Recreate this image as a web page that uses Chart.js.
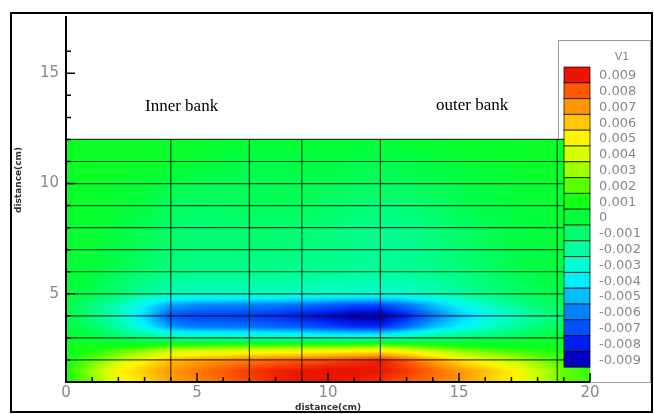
<!DOCTYPE html>
<html>
<head>
<meta charset="utf-8">
<script src="https://cdn.jsdelivr.net/npm/chart.js@4.4.0/dist/chart.umd.min.js"></script>
<style>
  html, body { margin: 0; padding: 0; background: #fff; }
  #wrap { width: 654px; height: 414px; }
</style>
</head>
<body>
<div id="wrap"><canvas id="chart" width="654" height="414"></canvas></div>
<script>
// measuring grid: stations across the channel (cm) and depth layers (cm)
const xPoints = [0, 1, 2, 3, 4, 5, 6, 7, 8, 9, 10, 11, 12, 13, 14, 15, 16, 17, 18, 19, 20];
const yLayers = [1, 1.5, 2, 2.5, 3, 3.5, 4, 4.5, 5, 6, 7, 8, 9, 10, 11, 12];

// V, one row per layer (bottom layer first)
const vRows = [
  [0.0008, 0.0025, 0.0045, 0.0055, 0.0068, 0.0072, 0.0078, 0.0082, 0.0088, 0.0090, 0.0090, 0.0088, 0.0085, 0.0080, 0.0075, 0.0070, 0.0060, 0.0050, 0.0036, 0.0020, 0.0014], // y=1
  [0.0010, 0.0030, 0.0050, 0.0060, 0.0070, 0.0075, 0.0080, 0.0085, 0.0088, 0.0090, 0.0092, 0.0092, 0.0090, 0.0085, 0.0078, 0.0070, 0.0062, 0.0052, 0.0038, 0.0022, 0.0015], // y=1.5
  [0.0008, 0.0020, 0.0035, 0.0050, 0.0062, 0.0068, 0.0071, 0.0075, 0.0078, 0.0080, 0.0082, 0.0085, 0.0088, 0.0080, 0.0068, 0.0055, 0.0045, 0.0035, 0.0025, 0.0015, 0.0010], // y=2
  [0.0008, 0.0010, 0.0015, 0.0020, 0.0030, 0.0032, 0.0033, 0.0034, 0.0035, 0.0036, 0.0038, 0.0040, 0.0042, 0.0035, 0.0027, 0.0020, 0.0015, 0.0012, 0.0010, 0.0009, 0.0008], // y=2.5
  [0.0005, 0, -0.0006, -0.0012, -0.0019, -0.0021, -0.0021, -0.0021, -0.0022, -0.0023, -0.0025, -0.0026, -0.0025, -0.0020, -0.0015, -0.0011, -0.0007, -0.0004, 0, 0.0003, 0.0004], // y=3
  [0, -0.0008, -0.0020, -0.0037, -0.0056, -0.0061, -0.0062, -0.0063, -0.0065, -0.0068, -0.0072, -0.0076, -0.0077, -0.0064, -0.0050, -0.0039, -0.0029, -0.0020, -0.0012, -0.0005, -0.0002], // y=3.5
  [-0.0002, -0.0012, -0.0026, -0.0046, -0.0070, -0.0074, -0.0074, -0.0075, -0.0077, -0.0082, -0.0087, -0.0093, -0.0094, -0.0080, -0.0063, -0.0049, -0.0038, -0.0028, -0.0018, -0.0010, -0.0005], // y=4
  [-0.0003, -0.0012, -0.0024, -0.0038, -0.0054, -0.0058, -0.0059, -0.0060, -0.0061, -0.0063, -0.0066, -0.0070, -0.0070, -0.0062, -0.0050, -0.0038, -0.0028, -0.0019, -0.0011, -0.0005, -0.0002], // y=4.5
  [0, -0.0004, -0.0011, -0.0019, -0.0025, -0.0026, -0.0026, -0.0026, -0.0026, -0.0027, -0.0028, -0.0029, -0.0029, -0.0028, -0.0025, -0.0020, -0.0015, -0.0010, -0.0005, -0.0002, 0], // y=5
  [0.0002, 0, -0.0005, -0.0010, -0.0014, -0.0016, -0.0016, -0.0016, -0.0016, -0.0017, -0.0018, -0.0018, -0.0019, -0.0018, -0.0016, -0.0013, -0.0009, -0.0005, -0.0002, 0, 0.0001], // y=6
  [0.0003, 0.0002, -0.0002, -0.0006, -0.0010, -0.0012, -0.0012, -0.0012, -0.0012, -0.0013, -0.0014, -0.0016, -0.0018, -0.0017, -0.0014, -0.0010, -0.0006, -0.0003, 0, 0.0002, 0.0002], // y=7
  [0.0003, 0.0003, 0, -0.0004, -0.0009, -0.0011, -0.0010, -0.0009, -0.0009, -0.0010, -0.0012, -0.0014, -0.0016, -0.0015, -0.0012, -0.0008, -0.0005, -0.0002, 0, 0.0002, 0.0002], // y=8
  [0.0004, 0.0004, 0.0002, -0.0001, -0.0006, -0.0008, -0.0007, -0.0006, -0.0005, -0.0006, -0.0008, -0.0010, -0.0012, -0.0011, -0.0008, -0.0005, -0.0002, 0, 0.0002, 0.0003, 0.0003], // y=9
  [0.0005, 0.0005, 0.0004, 0.0002, -0.0002, -0.0004, -0.0005, -0.0005, -0.0004, -0.0003, -0.0004, -0.0006, -0.0007, -0.0006, -0.0004, -0.0002, 0, 0.0002, 0.0003, 0.0004, 0.0004], // y=10
  [0.0006, 0.0006, 0.0006, 0.0005, 0.0004, 0.0002, 0, -0.0002, -0.0002, -0.0001, -0.0001, -0.0002, -0.0003, -0.0002, 0, 0.0002, 0.0003, 0.0004, 0.0005, 0.0005, 0.0005], // y=11
  [0.0006, 0.0006, 0.0006, 0.0006, 0.0005, 0.0005, 0.0004, 0.0003, 0.0003, 0.0003, 0.0003, 0.0003, 0.0003, 0.0004, 0.0004, 0.0005, 0.0005, 0.0006, 0.0006, 0.0006, 0.0006]  // y=12
];

// contour levels and their flood colours (lowest first)
const levels = [-0.009, -0.008, -0.007, -0.006, -0.005, -0.004, -0.003, -0.002, -0.001, 0,
                0.001, 0.002, 0.003, 0.004, 0.005, 0.006, 0.007, 0.008, 0.009];
const levelColors = [
  [0, 0, 190], [0, 30, 240], [0, 80, 255], [0, 130, 255], [0, 190, 255], [0, 240, 255],
  [0, 255, 210], [0, 255, 160], [0, 255, 110], [0, 255, 60], [20, 255, 20], [90, 255, 0],
  [160, 255, 0], [215, 255, 0], [255, 245, 0], [255, 200, 0], [255, 150, 0], [255, 90, 0],
  [235, 20, 0]
];

// mesh lines drawn over the flood
const sectionX = [4, 7, 9, 12, 18.75];
const meshY = [1, 2, 3, 4, 5, 6, 7, 8, 9, 10, 11, 12];

Chart.defaults.font.family = '"DejaVu Sans", sans-serif';

function clamp01(t) {
    return t < 0 ? 0 : (t > 1 ? 1 : t);
}

function sampleField(xv, yv) {
    let i = 0;
    while (i < xPoints.length - 2 && xv > xPoints[i + 1]) i++;
    let j = 0;
    while (j < yLayers.length - 2 && yv > yLayers[j + 1]) j++;
    const tx = clamp01((xv - xPoints[i]) / (xPoints[i + 1] - xPoints[i]));
    const ty = clamp01((yv - yLayers[j]) / (yLayers[j + 1] - yLayers[j]));
    const r0 = vRows[j], r1 = vRows[j + 1];
    const a = r0[i] + (r0[i + 1] - r0[i]) * tx;
    const b = r1[i] + (r1[i + 1] - r1[i]) * tx;
    return a + (b - a) * ty;
}

function colorFor(v) {
    const n = levels.length - 1;
    let t = (v - levels[0]) / (levels[n] - levels[0]) * n;
    t = Math.max(0, Math.min(n, t));
    const k = Math.min(n - 1, Math.floor(t));
    const f = t - k;
    const c0 = levelColors[k], c1 = levelColors[k + 1];
    return [0, 1, 2].map(m => Math.round(c0[m] + (c1[m] - c0[m]) * f));
}

/**
 * Flood contour + legend frame, drawn under the mesh lines
 */
const floodPlugin = {
    id: 'flood',
    beforeDatasetsDraw(chart) {
        const ctx = chart.ctx;
        const xs = chart.scales.x, ys = chart.scales.y;

        // legend box sits behind the flood
        ctx.save();
        ctx.fillStyle = '#fff';
        ctx.strokeStyle = '#9a9a9a';
        ctx.lineWidth = 1;
        ctx.fillRect(558.5, 40.5, 92, 342);
        ctx.strokeRect(558.5, 40.5, 92, 342);
        ctx.restore();

        const left = Math.round(xs.getPixelForValue(xPoints[0]));
        const right = Math.round(xs.getPixelForValue(xPoints[xPoints.length - 1]));
        const top = Math.round(ys.getPixelForValue(yLayers[yLayers.length - 1]));
        const bottom = Math.round(ys.getPixelForValue(yLayers[0]));
        const w = right - left, h = bottom - top;
        const img = ctx.createImageData(w, h);
        for (let j = 0; j < h; j++) {
            const yv = ys.getValueForPixel(top + j + 0.5);
            for (let i = 0; i < w; i++) {
                const xv = xs.getValueForPixel(left + i + 0.5);
                const c = colorFor(sampleField(xv, yv));
                const p = (j * w + i) * 4;
                img.data[p] = c[0];
                img.data[p + 1] = c[1];
                img.data[p + 2] = c[2];
                img.data[p + 3] = 255;
            }
        }
        ctx.putImageData(img, left, top);
    }
};

/**
 * Axes with inward ticks, colour bar, labels and outer frame
 */
const decorPlugin = {
    id: 'decor',
    afterDraw(chart) {
        const ctx = chart.ctx;
        const xs = chart.scales.x, ys = chart.scales.y;
        const area = chart.chartArea;
        ctx.save();

        // axis lines
        ctx.strokeStyle = '#000';
        ctx.lineWidth = 2;
        ctx.beginPath();
        ctx.moveTo(area.left, area.top);
        ctx.lineTo(area.left, area.bottom);
        ctx.lineTo(area.right, area.bottom);
        ctx.stroke();

        // tick marks pointing into the plot
        ctx.lineWidth = 1.5;
        ctx.beginPath();
        xs.ticks.forEach(t => {
            if (!Number.isInteger(t.value)) return;
            const px = xs.getPixelForValue(t.value);
            const len = t.value % 5 === 0 ? 9 : 5;
            ctx.moveTo(px, area.bottom);
            ctx.lineTo(px, area.bottom - len);
        });
        ys.ticks.forEach(t => {
            if (!Number.isInteger(t.value)) return;
            const py = ys.getPixelForValue(t.value);
            const len = t.value % 5 === 0 ? 9 : 5;
            ctx.moveTo(area.left, py);
            ctx.lineTo(area.left + len, py);
        });
        ctx.stroke();

        // y axis title
        ctx.save();
        ctx.translate(19, 180);
        ctx.rotate(-Math.PI / 2);
        ctx.fillStyle = '#333';
        ctx.font = 'bold 9px "DejaVu Sans"';
        ctx.textAlign = 'center';
        ctx.textBaseline = 'middle';
        ctx.fillText('distance(cm)', 0, 0);
        ctx.restore();

        // colour bar
        const barX = 564, barW = 26, barTop = 67, cell = 15.8;
        ctx.font = '13px "DejaVu Sans"';
        ctx.textAlign = 'left';
        ctx.textBaseline = 'middle';
        for (let i = 0; i < levels.length; i++) {
            const k = levels.length - 1 - i;
            const y0 = barTop + i * cell;
            const c = levelColors[k];
            ctx.fillStyle = 'rgb(' + c[0] + ',' + c[1] + ',' + c[2] + ')';
            ctx.fillRect(barX, y0, barW, cell);
            ctx.strokeStyle = 'rgba(0,0,0,0.7)';
            ctx.lineWidth = 1;
            ctx.strokeRect(barX, y0, barW, cell);
            ctx.fillStyle = '#888';
            ctx.fillText(String(levels[k]), 599, y0 + cell / 2 + 1);
        }
        ctx.font = '11px "DejaVu Sans"';
        ctx.textAlign = 'center';
        ctx.fillText('V1', 622, 57);

        // bank labels
        ctx.fillStyle = '#000';
        ctx.font = '17px "Liberation Serif", serif';
        ctx.textAlign = 'left';
        ctx.textBaseline = 'alphabetic';
        ctx.fillText('Inner bank', 145, 111);
        ctx.fillText('outer bank', 436, 110);

        // outer frame
        ctx.strokeStyle = '#000';
        ctx.lineWidth = 2;
        ctx.strokeRect(11, 13, 641, 399);
        ctx.restore();
    }
};

const meshStyle = {
    showLine: true,
    pointRadius: 0,
    borderColor: 'rgba(20,20,20,0.8)',
    borderWidth: 1.2
};

const meshDatasets = [
    ...sectionX.map(sx => Object.assign({
        data: [{ x: sx, y: meshY[0] }, { x: sx, y: meshY[meshY.length - 1] }]
    }, meshStyle)),
    ...meshY.map(my => Object.assign({
        data: [{ x: xPoints[0], y: my }, { x: xPoints[xPoints.length - 1], y: my }]
    }, meshStyle))
];

new Chart(document.getElementById('chart').getContext('2d'), {
    type: 'scatter',
    data: { datasets: meshDatasets },
    options: {
        responsive: false,
        animation: false,
        devicePixelRatio: 1,
        layout: { padding: { left: 0, right: 64, top: 13, bottom: 0 } },
        plugins: {
            legend: { display: false },
            tooltip: { enabled: false }
        },
        scales: {
            x: {
                type: 'linear',
                min: 0,
                max: 20,
                grid: { display: false, drawTicks: false },
                border: { display: false },
                ticks: {
                    stepSize: 1,
                    autoSkip: false,
                    maxRotation: 0,
                    padding: 2,
                    color: '#888',
                    font: { size: 15 },
                    callback: v => (v % 5 === 0 ? v : '')
                },
                title: {
                    display: true,
                    text: 'distance(cm)',
                    color: '#333',
                    font: { size: 9, weight: 'bold' },
                    padding: { top: 0, bottom: 1 }
                },
                afterFit: s => { s.height = 32; }
            },
            y: {
                type: 'linear',
                min: 1,
                max: 17.6,
                grid: { display: false, drawTicks: false },
                border: { display: false },
                ticks: {
                    stepSize: 1,
                    autoSkip: false,
                    padding: 7,
                    color: '#888',
                    font: { size: 15 },
                    callback: v => (v % 5 === 0 ? v : '')
                },
                afterFit: s => { s.width = 66; }
            }
        }
    },
    plugins: [floodPlugin, decorPlugin]
});
</script>
</body>
</html>
